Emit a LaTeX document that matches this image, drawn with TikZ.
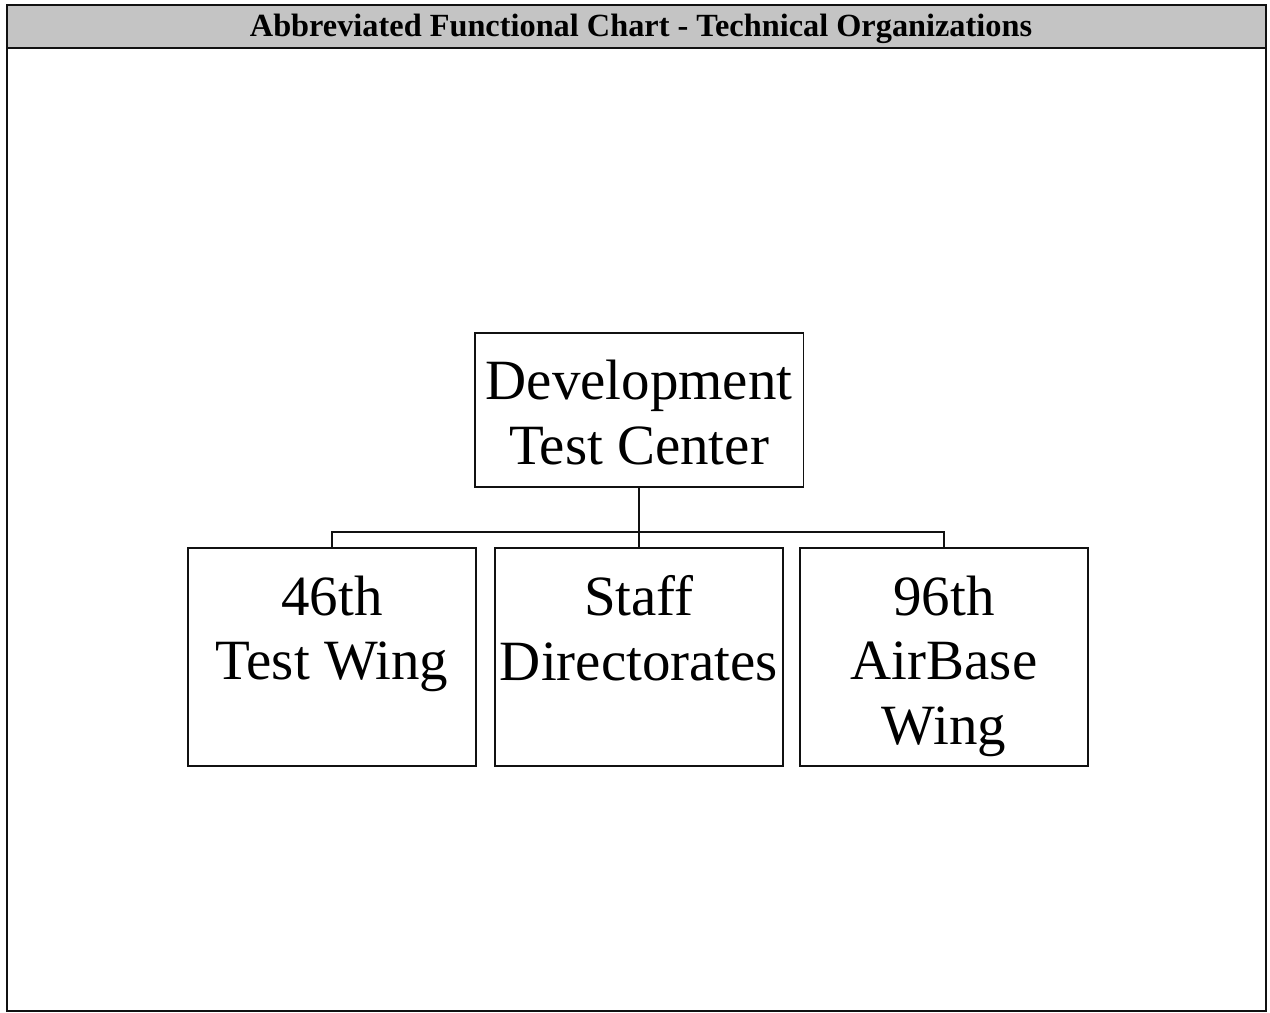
\documentclass[tikz,border=0pt]{standalone}
\usepackage{fontspec}
\setmainfont{Liberation Serif}
\usepackage{tikz}
\usetikzlibrary{positioning,calc}
\definecolor{framec}{HTML}{111111}
\definecolor{barc}{HTML}{C4C4C4}
\newcommand{\orgfont}{\fontsize{32.4}{36.8}\selectfont}

\begin{document}
\begin{tikzpicture}[x=0.02cm,y=-0.02cm,
  unit/.style={draw=framec,line width=1.1pt,minimum width=5.76cm,minimum height=4.36cm,inner sep=0pt},
  head/.style={draw=framec,line width=1.1pt,minimum width=6.58cm,minimum height=3.08cm,inner sep=0pt},
  lbl/.style={inner sep=0pt,align=center,font=\orgfont},
  wire/.style={draw=framec,line width=1pt}]
  \useasboundingbox (0,0) rectangle (1270,1013);
  % frame and title bar
  \fill[barc] (7,5) rectangle (1266,48);
  \draw[framec,line width=1.3pt] (7,5) rectangle (1266,1011);
  \draw[framec,line width=1.3pt] (7,48) -- (1266,48);
  \node[font=\fontsize{18.4}{22}\selectfont\bfseries] (title) at (641,29) {Abbreviated Functional Chart - Technical Organizations};
  % boxes
  \node[head] (dtc) at (639,410) {};
  \node[unit] (tw46) at (332,657) {};
  \node[unit] (staff) at (639,657) {};
  \node[unit] (abw96) at (944,657) {};
  % labels
  \node[lbl,below=15.7pt of dtc.north] (dtctxt) {Development\\Test Center};
  \node[lbl,below=16pt of tw46.north] (tw46txt) {46th\\Test Wing};
  \node[lbl,below=16pt of staff.north] (stafftxt) {Staff\\Directorates};
  \node[lbl,below=16pt of abw96.north] (abw96txt) {96th\\AirBase\\Wing};
  % connectors
  \coordinate (bus) at (639,532);
  \draw[wire] (dtc.south) -- (staff.north);
  \draw[wire] (tw46.north) |- (bus) -| (abw96.north);
\end{tikzpicture}
\end{document}
